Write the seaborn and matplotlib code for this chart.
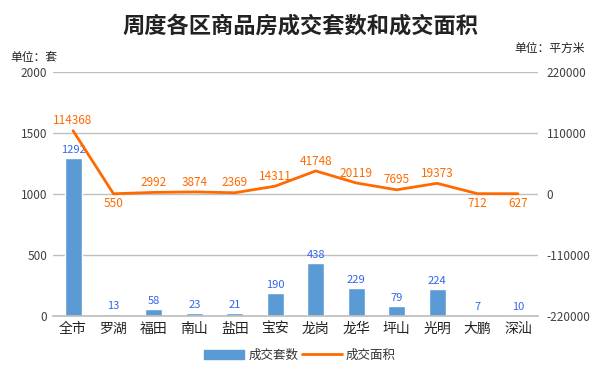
import matplotlib
matplotlib.use("Agg")
import matplotlib.pyplot as plt
import seaborn as sns
import numpy as np
from matplotlib.patches import Patch
from matplotlib.lines import Line2D

districts = ["全市", "罗湖", "福田", "南山", "盐田", "宝安", "龙岗", "龙华", "坪山", "光明", "大鹏", "深汕"]
units_sold = [1292, 13, 58, 23, 21, 190, 438, 229, 79, 224, 7, 10]
area_sold = [114368, 550, 2992, 3874, 2369, 14311, 41748, 20119, 7695, 19373, 712, 627]
left_ticks = [0, 500, 1000, 1500, 2000]
right_ticks = [-220000, -110000, 0, 110000, 220000]

sns.set_theme(style="white")
plt.rcParams["font.family"] = ["Noto Sans CJK SC", "DejaVu Sans"]

BAR = "#5b9bd5"
LINE = "#ff6a00"
BLUE_TXT = "#3366ee"
GRAY = "#404040"

fig = plt.figure(figsize=(6, 3.7), dpi=100)
ax = fig.add_axes([0.088, 0.146, 0.809, 0.659])
x = np.arange(len(districts))

sns.barplot(x=x, y=units_sold, color=BAR, width=0.42, ax=ax, saturation=1)
ax.set_ylim(0, 2000)
ax.set_xlim(-0.5, len(districts) - 0.5)
ax.set_yticks(left_ticks)
ax.set_yticklabels([str(t) for t in left_ticks], fontsize=8.5, color=GRAY)
ax.set_xticks(x)
ax.set_xticklabels(districts, fontsize=10, color="#222222")
ax.grid(axis="y", color="#c0c0c0", linewidth=1)
ax.set_axisbelow(True)
for s in ["top", "right", "left"]:
    ax.spines[s].set_visible(False)
ax.spines["bottom"].set_color("#bfbfbf")
ax.tick_params(axis="both", length=0, pad=4)
ax.set_xlabel("")
ax.set_ylabel("")

for xi, v in zip(x, units_sold):
    ax.text(xi, v + 25, str(v), ha="center", va="bottom", fontsize=8, color=BLUE_TXT)

ax2 = ax.twinx()
sns.lineplot(x=x, y=area_sold, color=LINE, linewidth=2, ax=ax2)
ax2.set_ylim(-220000, 220000)
ax2.set_yticks(right_ticks)
ax2.set_yticklabels([str(t) for t in right_ticks], fontsize=8.5, color=GRAY)
for s in ["top", "right", "left", "bottom"]:
    ax2.spines[s].set_visible(False)
ax2.tick_params(axis="both", length=0, pad=6)
ax2.set_ylabel("")
ax2.grid(False)

below = {1, 10, 11}
for xi, v in zip(x, area_sold):
    if xi in below:
        ax2.text(xi, v - 6000, str(v), ha="center", va="top", fontsize=8.5, color=LINE)
    else:
        ax2.text(xi, v + 6000, str(v), ha="center", va="bottom", fontsize=8.5, color=LINE)

fig.text(0.5, 0.93, "周度各区商品房成交套数和成交面积", ha="center", va="center",
         fontsize=16, fontweight="bold", color="#222222")
fig.text(0.018, 0.845, "单位：套", ha="left", va="center", fontsize=8.5, color="#222222")
fig.text(0.975, 0.87, "单位：平方米", ha="right", va="center", fontsize=8.5, color="#222222")

handles = [Patch(facecolor=BAR, edgecolor=BAR), Line2D([0], [0], color=LINE, linewidth=2)]
fig.legend(handles, ["成交套数", "成交面积"], loc="center", bbox_to_anchor=(0.5, 0.04),
           ncol=2, frameon=False, fontsize=9, handlelength=3.2, handletextpad=0.3,
           columnspacing=0.3, labelcolor="#333333")

fig.savefig("out.png", dpi=100, facecolor="white")
